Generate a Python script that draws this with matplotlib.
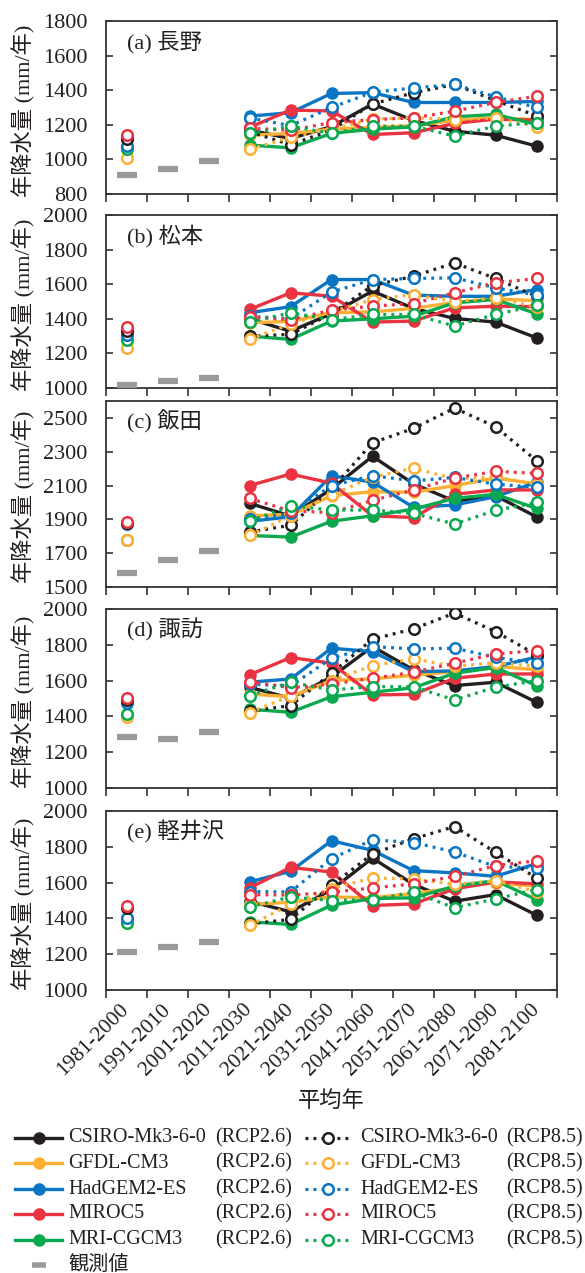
"""
年降水量の将来予測 (5地点, RCP2.6 / RCP8.5)
out: out.png
"""

import numpy as np
import matplotlib
matplotlib.use("Agg")
import matplotlib.pyplot as plt
from matplotlib.lines import Line2D

plt.rcParams['font.family'] = ['Liberation Serif', 'Noto Sans CJK JP']

periods = ["1981-2000", "1991-2010", "2001-2020", "2011-2030", "2021-2040",
           "2031-2050", "2041-2060", "2051-2070", "2061-2080", "2071-2090",
           "2081-2100"]
models = ["CSIRO-Mk3-6-0", "GFDL-CM3", "HadGEM2-ES", "MIROC5", "MRI-CGCM3"]
colors = ["#231f20", "#fbb034", "#0a75c2", "#ea3340", "#0aa84f"]
stations = ["(a) 長野", "(b) 松本", "(c) 飯田", "(d) 諏訪", "(e) 軽井沢"]

# 観測値 (1981-2000, 1991-2010, 2001-2020)
obs_nagano = [910, 945, 990]
obs_matsumoto = [1015, 1040, 1060]
obs_iida = [1580, 1660, 1710]
obs_suwa = [1285, 1275, 1315]
obs_karuizawa = [1215, 1240, 1270]

# 1981-2000 のモデル値 (CSIRO, GFDL, HadGEM, MIROC, MRI)
hist_nagano = [1120, 1010, 1075, 1140, 1060]
hist_matsumoto = [1330, 1230, 1305, 1355, 1280]
hist_iida = [1880, 1780, 1875, 1885, 1775]
hist_suwa = [1490, 1395, 1475, 1505, 1415]
hist_karuizawa = [1460, 1375, 1405, 1470, 1375]

# 2011-2030 ... 2081-2100
rcp26_nagano = [
    [1170, 1120, 1190, 1320, 1225, 1163, 1140, 1077],
    [1140, 1150, 1175, 1185, 1195, 1225, 1240, 1230],
    [1250, 1270, 1381, 1386, 1329, 1329, 1329, 1335],
    [1185, 1285, 1280, 1144, 1154, 1208, 1233, 1227],
    [1083, 1067, 1150, 1175, 1188, 1246, 1260, 1202],
]
rcp85_nagano = [
    [1160, 1085, 1170, 1320, 1385, 1433, 1340, 1252],
    [1058, 1127, 1175, 1233, 1242, 1230, 1240, 1190],
    [1240, 1195, 1300, 1388, 1413, 1433, 1362, 1300],
    [1180, 1168, 1213, 1230, 1240, 1279, 1329, 1365],
    [1150, 1192, 1150, 1192, 1192, 1135, 1192, 1213],
]
rcp26_matsumoto = [
    [1400, 1328, 1430, 1560, 1460, 1402, 1381, 1290],
    [1377, 1385, 1435, 1440, 1460, 1495, 1515, 1505],
    [1435, 1470, 1627, 1627, 1537, 1530, 1530, 1569],
    [1454, 1550, 1531, 1381, 1387, 1463, 1473, 1470],
    [1300, 1281, 1387, 1400, 1415, 1492, 1512, 1429],
]
rcp85_matsumoto = [
    [1300, 1310, 1430, 1592, 1646, 1723, 1633, 1530],
    [1281, 1370, 1440, 1511, 1540, 1500, 1520, 1470],
    [1415, 1400, 1554, 1627, 1633, 1637, 1579, 1537],
    [1410, 1395, 1450, 1473, 1488, 1550, 1608, 1633],
    [1381, 1435, 1395, 1425, 1425, 1358, 1425, 1477],
]
rcp26_iida = [
    [1995, 1920, 2080, 2273, 2110, 2008, 2040, 1915],
    [1921, 1930, 2040, 2064, 2060, 2100, 2144, 2110],
    [1889, 1915, 2158, 2120, 1971, 1985, 2034, 2120],
    [2100, 2168, 2114, 1921, 1911, 2048, 2074, 2074],
    [1805, 1795, 1889, 1921, 1961, 2024, 2048, 1965],
]
rcp85_iida = [
    [1825, 1865, 2080, 2353, 2438, 2558, 2448, 2247],
    [1805, 1920, 2044, 2150, 2203, 2140, 2150, 2110],
    [1900, 1935, 2100, 2158, 2128, 2148, 2108, 2090],
    [2024, 1950, 1940, 2012, 2074, 2144, 2184, 2172],
    [1889, 1981, 1955, 1955, 1935, 1873, 1953, 2000],
]
rcp26_suwa = [
    [1563, 1501, 1620, 1790, 1660, 1572, 1591, 1479],
    [1525, 1510, 1600, 1610, 1630, 1650, 1680, 1660],
    [1591, 1609, 1781, 1762, 1650, 1654, 1678, 1731],
    [1632, 1729, 1697, 1520, 1523, 1613, 1637, 1637],
    [1440, 1423, 1510, 1535, 1560, 1641, 1673, 1572],
]
rcp85_suwa = [
    [1430, 1460, 1641, 1831, 1889, 1977, 1874, 1744],
    [1421, 1514, 1600, 1684, 1721, 1680, 1700, 1680],
    [1580, 1570, 1725, 1790, 1777, 1781, 1730, 1697],
    [1594, 1560, 1580, 1613, 1647, 1697, 1749, 1768],
    [1516, 1591, 1548, 1566, 1566, 1492, 1563, 1600],
]
rcp26_karuizawa = [
    [1496, 1437, 1560, 1737, 1590, 1496, 1533, 1418],
    [1478, 1490, 1520, 1515, 1540, 1570, 1600, 1580],
    [1604, 1663, 1834, 1780, 1667, 1654, 1635, 1706],
    [1570, 1685, 1659, 1472, 1481, 1565, 1604, 1593],
    [1381, 1366, 1474, 1511, 1515, 1580, 1611, 1505],
]
rcp85_karuizawa = [
    [1370, 1394, 1585, 1760, 1845, 1913, 1769, 1626],
    [1361, 1478, 1567, 1626, 1620, 1590, 1610, 1550],
    [1550, 1548, 1734, 1839, 1824, 1771, 1690, 1682],
    [1533, 1530, 1546, 1570, 1593, 1635, 1695, 1722],
    [1463, 1520, 1500, 1505, 1546, 1459, 1509, 1561],
]

obs_all = [obs_nagano, obs_matsumoto, obs_iida, obs_suwa, obs_karuizawa]
hist_all = [hist_nagano, hist_matsumoto, hist_iida, hist_suwa, hist_karuizawa]
rcp26_all = [rcp26_nagano, rcp26_matsumoto, rcp26_iida, rcp26_suwa, rcp26_karuizawa]
rcp85_all = [rcp85_nagano, rcp85_matsumoto, rcp85_iida, rcp85_suwa, rcp85_karuizawa]

ylims = [(800, 1800), (1000, 2000), (1500, 2600), (1000, 2000), (1000, 2000)]
yticks = [np.arange(800, 1801, 200), np.arange(1000, 2001, 200),
          np.arange(1500, 2501, 200), np.arange(1000, 2001, 200),
          np.arange(1000, 2001, 200)]
# panel boxes in pixels (top, bottom)
boxes = [(21, 194), (215, 388), (401, 587), (609, 788), (811, 990)]

W, H = 585, 1273
L, R = 106, 557
fig = plt.figure(figsize=(W / 100, H / 100), dpi=100)

x = np.arange(len(periods))
xf = x[3:]
obs_c = "#9a9a9a"
txt_c = "#231f20"
dot = (0, (0.9, 1.6))

for k in range(5):
    top, bot = boxes[k]
    ax = fig.add_axes([L / W, 1 - bot / H, (R - L) / W, (bot - top) / H])
    for s in ax.spines.values():
        s.set_linewidth(1.3)
        s.set_color("#333333")

    # observations
    ax.plot(x[:3], obs_all[k], ls="none", marker="_", ms=14, mew=4.5,
            color=obs_c, zorder=3)
    # RCP2.6
    for m in range(5):
        ax.plot(xf, rcp26_all[k][m], color=colors[m], lw=2.4, marker="o",
                ms=8, zorder=4)
    # RCP8.5
    for m in range(5):
        ax.plot(xf, rcp85_all[k][m], color=colors[m], lw=2.3, ls=dot,
                marker="o", ms=7.6, mfc="white", mew=1.8, zorder=5)
    # 1981-2000 model values
    order = np.argsort(hist_all[k])
    for m in order:
        ax.plot(x[0], hist_all[k][m], ls="none", marker="o", ms=7.6,
                mfc="white", mec=colors[m], mew=1.8, zorder=5)

    ax.set_xlim(-0.5, 10.5)
    ax.set_ylim(*ylims[k])
    ax.set_yticks(yticks[k])
    ax.tick_params(axis="y", which="both", left=True, right=True,
                   direction="in", length=5, width=1.2, labelsize=16,
                   pad=13.5, colors="#333333", labelcolor=txt_c)
    ax.set_xticks(np.arange(-0.5, 11, 1))
    ax.tick_params(axis="x", direction="out", length=6, width=1.2,
                   colors="#333333")
    ax.set_xticklabels([])
    ax.set_xticks(x, minor=True)
    ax.tick_params(axis="x", which="minor", length=0)
    if k == 4:
        ax.set_xticklabels(periods, minor=True, rotation=45, ha="right",
                           va="center", rotation_mode="anchor", fontsize=15.5)
        ax.tick_params(axis="x", which="minor", pad=12, labelcolor=txt_c)
    fig.text(127 / W, 1 - (top + 21) / H, stations[k], fontsize=16,
             va="center", ha="left", color=txt_c)
    fig.text(24 / W, 1 - ((top + bot) / 2 + 3) / H, "年降水量 (mm/年)",
             rotation=90, fontsize=16, va="center", ha="center", color=txt_c)

fig.text((L + R) / 2 / W, 1 - 1102 / H, "平均年", fontsize=16, ha="center",
         va="center", color=txt_c)

# legend
rows = [1138, 1163, 1189, 1214, 1240]
for m in range(5):
    yy = 1 - rows[m] / H
    fig.add_artist(Line2D([15 / W, 62 / W], [yy, yy], color=colors[m], lw=2.4,
                          transform=fig.transFigure))
    fig.add_artist(Line2D([38.5 / W], [yy], color=colors[m], marker="o",
                          ms=8, transform=fig.transFigure))
    fig.add_artist(Line2D([305 / W, 350 / W], [yy, yy], color=colors[m],
                          lw=2.3, ls=dot, transform=fig.transFigure))
    fig.add_artist(Line2D([328 / W], [yy], color=colors[m], marker="o",
                          ms=7.6, mfc="white", mew=1.8,
                          transform=fig.transFigure))
    fig.text(68 / W, yy, models[m], fontsize=14.5, va="center", ha="left",
             color=txt_c)
    fig.text(292 / W, yy, "(RCP2.6)", fontsize=14.5, va="center", ha="right",
             color=txt_c)
    fig.text(360 / W, yy, models[m], fontsize=14.5, va="center", ha="left",
             color=txt_c)
    fig.text(583 / W, yy, "(RCP8.5)", fontsize=14.5, va="center", ha="right",
             color=txt_c)
yy = 1 - 1265 / H
fig.add_artist(Line2D([38.5 / W], [yy], ls="none", marker="_", ms=10, mew=4,
                      color=obs_c, transform=fig.transFigure))
fig.text(68 / W, yy, "観測値", fontsize=14.5, va="center", ha="left",
         color=txt_c)

plt.savefig("out.png", dpi=100)
